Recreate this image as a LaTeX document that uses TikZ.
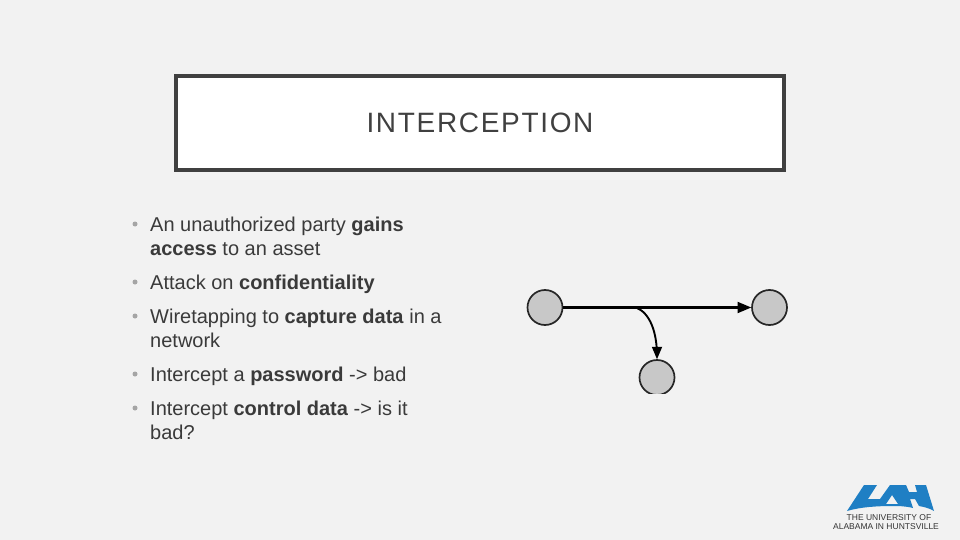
\documentclass[tikz,border=0pt]{standalone}
\usepackage{fontspec}
\setmainfont{Liberation Sans}
\usetikzlibrary{arrows}
\usetikzlibrary{positioning}
\definecolor{slidebg}{HTML}{F2F2F2}
\definecolor{framegray}{HTML}{404040}
\definecolor{bodytext}{HTML}{3A3A3A}
\definecolor{bulletgray}{HTML}{A5A5A5}
\definecolor{nodegray}{HTML}{C8C8C8}
\definecolor{logoblue}{HTML}{1F7FC4}
\tikzset{
  station/.style={draw=black!85,fill=nodegray,circle,line width=1.7pt,minimum size=35pt,inner sep=0pt},
  bullettext/.style={anchor=north west,text=bodytext,font=\fontsize{20}{24}\selectfont,align=left,inner sep=0pt},
  bulletdot/.style={circle,fill=bulletgray,minimum size=5pt,inner sep=0pt},
  logotext/.style={text=black!80,font=\fontsize{8.5}{10}\selectfont,inner sep=0pt}
}

\begin{document}
\begin{tikzpicture}[x=1pt,y=-1pt]

  \useasboundingbox [fill=slidebg] (0,0) rectangle (960,540);

  \node [draw=framegray,fill=white,line width=4pt,minimum width=608pt,minimum height=94pt,
    text=black!75,font=\fontsize{28}{32}\selectfont,inner sep=0pt] (title) at (480,123)
    {\addfontfeature{LetterSpace=6}INTERCEPTION};

  \node [bullettext] (b1) at (150,217) {An unauthorized party \textbf{gains}\\\textbf{access} to an asset};
  \node [bullettext] (b2) at (150,275) {Attack on \textbf{confidentiality}};
  \node [bullettext] (b3) at (150,309) {Wiretapping to \textbf{capture data} in a\\network};
  \node [bullettext] (b4) at (150,367) {Intercept a \textbf{password} -> bad};
  \node [bullettext] (b5) at (150,401) {Intercept \textbf{control data} -> is it\\bad?};

  \foreach \y/\name in {224/d1,282/d2,316/d3,374/d4,408/d5}
    \node [bulletdot] (\name) at (135,\y) {};

  \node [station] (source) at (545,307.5) {};
  \node [station] (dest) at (769.5,307.5) {};
  \begin{scope}
    \clip (630,350) rectangle (690,393.5);
    \node [station] (tap) at (657,377.5) {};
  \end{scope}

  \coordinate (branch) at (636,307.5);

  \path [draw=black,line width=2.2pt,-triangle 45] (source) -- (dest);
  \path [draw=black,line width=1.9pt,-triangle 45] (branch) .. controls (650,313) and (657,332) .. (tap);

  % logo
  \fill [logoblue,even odd rule] (847,511) -- (864,485) -- (877,485) -- (868,499) -- (880,499) -- (890,485)
    -- (906,485) -- (909,492) -- (917,492) -- (915,485) -- (926,485) -- (934,511)
    .. controls (929,508) and (924,507) .. (919,506) -- (915,499) -- (910,499) -- (913,508)
    .. controls (905,506) and (898,506) .. (892,506) .. controls (878,506) and (860,507) .. (847,511) -- cycle
    (892,495) -- (886,504) -- (898,504) -- cycle;
  \node [logotext] (logoa) at (889,517.5) {THE UNIVERSITY OF};
  \node [logotext] (logob) at (886,527) {ALABAMA IN HUNTSVILLE};

\end{tikzpicture}
\end{document}
